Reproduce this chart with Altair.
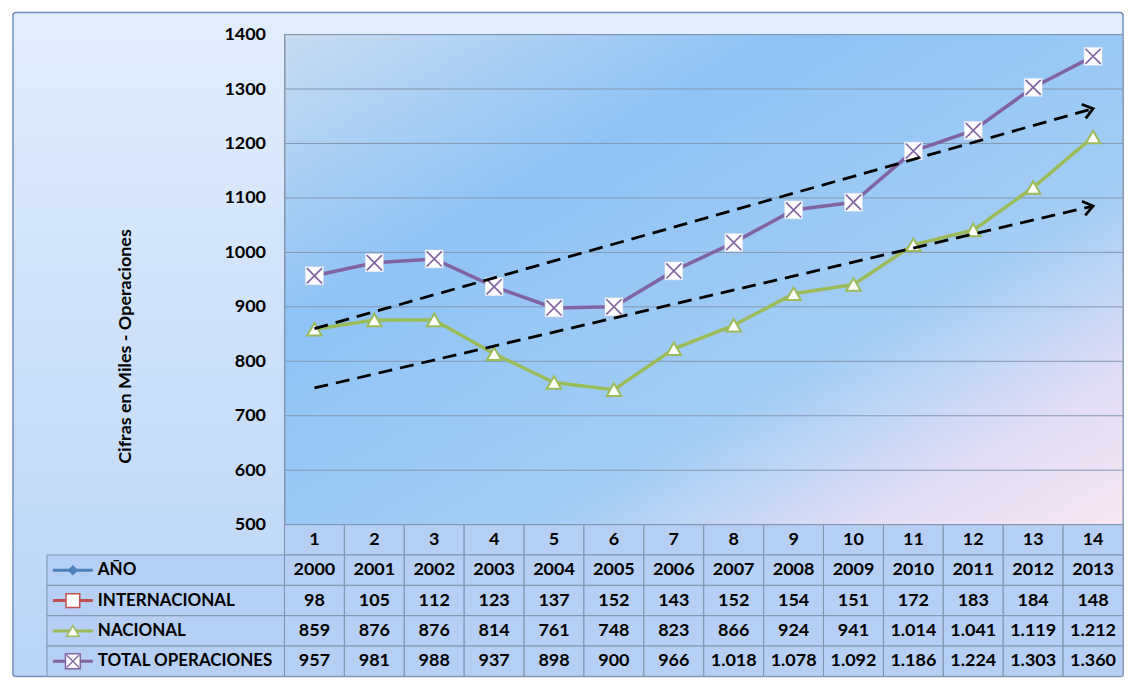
import altair as alt
import pandas as pd

# ---------------- data ----------------
categories = [str(i) for i in range(1, 15)]
years = ["2000", "2001", "2002", "2003", "2004", "2005", "2006",
         "2007", "2008", "2009", "2010", "2011", "2012", "2013"]
internacional = [98, 105, 112, 123, 137, 152, 143, 152, 154, 151, 172, 183, 184, 148]
nacional = [859, 876, 876, 814, 761, 748, 823, 866, 924, 941, 1014, 1041, 1119, 1212]
total = [957, 981, 988, 937, 898, 900, 966, 1018, 1078, 1092, 1186, 1224, 1303, 1360]
row_names = ["AÑO", "INTERNACIONAL", "NACIONAL", "TOTAL OPERACIONES"]
y_ticks = [500, 600, 700, 800, 900, 1000, 1100, 1200, 1300, 1400]
trend_upper_x = ["1", "14"]
trend_upper_y = [860, 1264]
trend_lower_x = ["1", "14"]
trend_lower_y = [751, 1085]
arrow_angles = [344, 347]

C_ANIO, C_INT, C_NAC, C_TOT = "#4f81bd", "#c0504d", "#9bbb59", "#8064a2"
FONT = "Lato"
W, H, TH = 840, 491, 152


def fmt(v):
    return f"{v:,}".replace(",", ".")


# ---------------- top chart ----------------
xs = alt.X("cat:N", scale=alt.Scale(domain=categories, type="point", padding=0.5), axis=None)
ys = alt.Y(
    "value:Q",
    scale=alt.Scale(domain=[500, 1400], nice=False, zero=False),
    axis=alt.Axis(
        values=y_ticks, format="d", grid=False, ticks=False, domain=True, domainColor="#8497b0",
        labelFont=FONT, labelFontWeight="bold", labelFontSize=18, labelColor="black",
        labelPadding=19, title="Cifras en Miles - Operaciones", titleFont=FONT,
        titleFontSize=18, titleFontWeight="bold", titleColor="black",
        titleX=-159, titleY=312, titleAngle=270, titleBaseline="middle",
        titleAlign="center", zindex=1,
    ),
)

frame_grad = alt.LinearGradient(
    gradient="linear", x1=0, y1=0, x2=0, y2=1,
    stops=[alt.GradientStop(offset=0, color="#e3eefc"),
           alt.GradientStop(offset=1, color="#b9d4f6")],
)
plot_grad = alt.LinearGradient(
    gradient="linear", x1=0, y1=0, x2=1, y2=1,
    stops=[alt.GradientStop(offset=0, color="#c8dbf0"),
           alt.GradientStop(offset=0.3, color="#8fc3f6"),
           alt.GradientStop(offset=0.65, color="#a3cdf4"),
           alt.GradientStop(offset=0.85, color="#e2def4"),
           alt.GradientStop(offset=1, color="#f8e6f3")],
)

one = pd.DataFrame({"k": [0]})
frame = alt.Chart(one).mark_rect(fill=frame_grad, stroke="#6f8fbf", strokeWidth=1.5, cornerRadius=3).encode(
    x=alt.value(-272), x2=alt.value(W), y=alt.value(-22), y2=alt.value(H + TH)
)
plot_bg = alt.Chart(one).mark_rect(fill=plot_grad, stroke="#8497b0", strokeWidth=1).encode(
    x=alt.value(0), x2=alt.value(W), y=alt.value(0), y2=alt.value(H)
)
grid = alt.Chart(pd.DataFrame({"value": y_ticks})).mark_rule(color="#8497b0", strokeWidth=1).encode(
    y=ys, x=alt.value(0), x2=alt.value(W)
)

nac_df = pd.DataFrame({"cat": categories, "value": nacional})
tot_df = pd.DataFrame({"cat": categories, "value": total})

nac_line = alt.Chart(nac_df).mark_line(color=C_NAC, strokeWidth=3.5).encode(x=xs, y=ys)
nac_pts = alt.Chart(nac_df).mark_point(shape="triangle-up", filled=True, fill="white", stroke=C_NAC,
                                       strokeWidth=2, size=210, opacity=1).encode(x=xs, y=ys)
tot_line = alt.Chart(tot_df).mark_line(color=C_TOT, strokeWidth=3.5).encode(x=xs, y=ys)
tot_sq = alt.Chart(tot_df).mark_point(shape="square", filled=True, fill="white", stroke="#e4e4ee",
                                      strokeWidth=0.5, size=320, opacity=1).encode(x=xs, y=ys)
XPATH = "M-0.85,-0.85L0.85,0.85M0.85,-0.85L-0.85,0.85"
tot_x = alt.Chart(tot_df).mark_point(shape=XPATH, filled=False, stroke=C_TOT, strokeWidth=1.7,
                                     size=320, opacity=1).encode(x=xs, y=ys)

trend_df = pd.DataFrame({
    "cat": trend_upper_x + trend_lower_x,
    "value": trend_upper_y + trend_lower_y,
    "grp": ["a", "a", "b", "b"],
})
trend = alt.Chart(trend_df).mark_line(color="black", strokeWidth=2.8, strokeDash=[14, 8]).encode(
    x=xs, y=ys, detail="grp:N"
)
heads_df = pd.DataFrame({
    "cat": [trend_upper_x[1], trend_lower_x[1]],
    "value": [trend_upper_y[1], trend_lower_y[1]],
    "angle": arrow_angles,
})
heads = alt.Chart(heads_df).mark_point(shape="M-1,-0.75L0,0L-1,0.75", filled=False, stroke="black",
                                       strokeWidth=2.8, size=380, opacity=1).encode(
    x=xs, y=ys, angle=alt.Angle("angle:Q", scale=None)
)

top = alt.layer(frame, plot_bg, grid, nac_line, tot_line, nac_pts, tot_sq, tot_x, trend, heads).properties(
    width=W, height=H
)

# ---------------- table ----------------
row_order = ["hdr"] + row_names
recs = []
for i, c in enumerate(categories):
    recs.append({"cat": c, "row": "hdr", "text": c})
    recs.append({"cat": c, "row": "AÑO", "text": years[i]})
    recs.append({"cat": c, "row": "INTERNACIONAL", "text": fmt(internacional[i])})
    recs.append({"cat": c, "row": "NACIONAL", "text": fmt(nacional[i])})
    recs.append({"cat": c, "row": "TOTAL OPERACIONES", "text": fmt(total[i])})
table_df = pd.DataFrame(recs)

xb = alt.X("cat:N", scale=alt.Scale(domain=categories, paddingInner=0, paddingOuter=0), axis=None)
yb = alt.Y("row:N", scale=alt.Scale(domain=row_order, paddingInner=0, paddingOuter=0), axis=None)
yc = alt.Y("row:N", scale=alt.Scale(domain=row_order, paddingInner=0, paddingOuter=0), axis=None,
           bandPosition=0.5)

CELL_FILL, CELL_STROKE = "#b6cff4", "#8193ab"
cells = alt.Chart(table_df).mark_rect(fill=CELL_FILL, stroke=CELL_STROKE, strokeWidth=1).encode(x=xb, y=yb)
texts = alt.Chart(table_df).mark_text(font=FONT, fontWeight="bold", fontSize=18, color="black").encode(
    x=xb, y=yc, text="text:N"
)

legend_df = pd.DataFrame({
    "row": row_names,
    "color": [C_ANIO, C_INT, C_NAC, C_TOT],
    "fill": [C_ANIO, "white", "white", "white"],
    "shape": ["diamond", "square", "triangle-up", "square"],
    "size": [70, 190, 150, 220],
})
label_cells = alt.Chart(legend_df).mark_rect(fill=CELL_FILL, stroke=CELL_STROKE, strokeWidth=1).encode(
    x=alt.value(-238), x2=alt.value(0), y=yb
)
label_text = alt.Chart(legend_df).mark_text(font=FONT, fontWeight="bold", fontSize=17, color="black",
                                            align="left").encode(
    x=alt.value(-187), y=yc, text="row:N"
)
glyph_line = alt.Chart(legend_df).mark_rule(strokeWidth=3).encode(
    x=alt.value(-232), x2=alt.value(-192), y=yc, color=alt.Color("color:N", scale=None)
)
glyph_pt = alt.Chart(legend_df).mark_point(filled=True, strokeWidth=1.5, opacity=1).encode(
    x=alt.value(-212), y=yc,
    shape=alt.Shape("shape:N", scale=None),
    fill=alt.Fill("fill:N", scale=None),
    stroke=alt.Stroke("color:N", scale=None),
    size=alt.Size("size:Q", scale=None),
)
glyph_x = alt.Chart(legend_df[legend_df["row"] == "TOTAL OPERACIONES"]).mark_point(
    shape=XPATH, filled=False, stroke=C_TOT, strokeWidth=1.3, size=220, opacity=1
).encode(x=alt.value(-212), y=yc)

bottom = alt.layer(cells, texts, label_cells, glyph_line, glyph_pt, glyph_x, label_text).properties(
    width=W, height=TH
)

chart = alt.vconcat(top, bottom, spacing=0, bounds="flush").properties(
    padding={"left": 4, "top": 3, "right": 0, "bottom": 0}, background="white"
).configure_view(stroke=None)

chart.save("out.html", embed_options={"renderer": "svg", "actions": False})
